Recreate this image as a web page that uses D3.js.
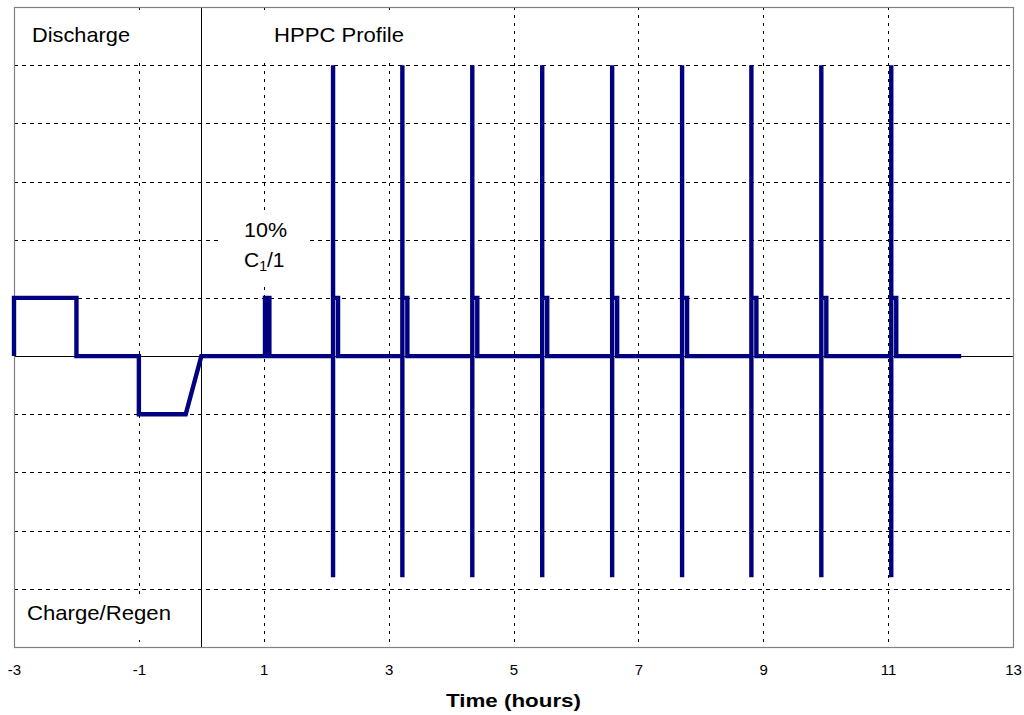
<!DOCTYPE html>
<html>
<head>
<meta charset="utf-8">
<script src="https://cdn.jsdelivr.net/npm/d3@7"></script>
<style>
  html, body { margin: 0; padding: 0; background: #fff; }
  svg { display: block; font-family: "Liberation Sans", Arial, sans-serif; }
</style>
</head>
<body>
<svg id="chart" width="1024" height="715"></svg>
<script>
// ---- Data ----
// Pre-test segment: time (h) and current (relative units)
const prepTime    = [-3, -3, -2, -2, -1, -1, -0.25, 0, 1.02, 1.02, 1.09, 1.09];
const prepCurrent = [ 0,  1,  1,  0,  0, -1, -1,    0, 0,    1,    1,    0];
// HPPC pulse sequences
const pulseStart     = [2.11, 3.22, 4.34, 5.46, 6.58, 7.70, 8.81, 9.93, 11.05];
const pulseEnd       = [2.19, 3.30, 4.42, 5.54, 6.66, 7.78, 8.89, 10.01, 11.13];
const dischargePeak  = [5, 5, 5, 5, 5, 5, 5, 5, 5];
const regenPeak      = [-3.8, -3.8, -3.8, -3.8, -3.8, -3.8, -3.8, -3.8, -3.8];
const stepLevel      = [1, 1, 1, 1, 1, 1, 1, 1, 1];
const endTime = 12.17;

const xTicks = [-3, -1, 1, 3, 5, 7, 9, 11, 13];
const vGrid  = [-1, 1, 3, 5, 7, 9, 11];
const hGrid  = [-4, -3, -2, -1, 1, 2, 3, 4, 5];

// ---- Build the profile polyline ----
const profile = prepTime.map((t, i) => [t, prepCurrent[i]]);
pulseStart.forEach((t, i) => {
  profile.push([t, 0], [t, dischargePeak[i]], [t, regenPeak[i]], [t, stepLevel[i]],
               [pulseEnd[i], stepLevel[i]], [pulseEnd[i], 0]);
});
profile.push([endTime, 0]);

// ---- Layout ----
const L = 14, R = 1013, T = 7, B = 647;
const svg = d3.select("#chart");
const x = d3.scaleLinear().domain([-3, 13]).range([L, R]);
const y = d3.scaleLinear().domain([-5, 6]).range([B, T]);

// gridlines
svg.append("g").selectAll("line").data(hGrid).join("line")
  .attr("x1", L).attr("x2", R)
  .attr("y1", d => Math.round(y(d)) + 0.5).attr("y2", d => Math.round(y(d)) + 0.5)
  .attr("stroke", "#000").attr("stroke-width", 1).attr("stroke-dasharray", "4,4");
svg.append("g").selectAll("line").data(vGrid).join("line")
  .attr("x1", d => Math.round(x(d)) + 0.5).attr("x2", d => Math.round(x(d)) + 0.5)
  .attr("y1", T).attr("y2", B)
  .attr("stroke", "#000").attr("stroke-width", 1).attr("stroke-dasharray", "3,5");

// white backgrounds of the text boxes (they hide the grid beneath)
const boxes = [[20, 15, 128, 46], [258, 15, 160, 46], [222, 214, 88, 72], [18, 596, 162, 44]];
svg.append("g").selectAll("rect").data(boxes).join("rect")
  .attr("x", d => d[0]).attr("y", d => d[1]).attr("width", d => d[2]).attr("height", d => d[3])
  .attr("fill", "#fff");

// zero axes
svg.append("line").attr("x1", L).attr("x2", R)
  .attr("y1", Math.round(y(0)) + 0.5).attr("y2", Math.round(y(0)) + 0.5)
  .attr("stroke", "#000").attr("stroke-width", 1);
svg.append("line").attr("x1", Math.round(x(0)) + 0.5).attr("x2", Math.round(x(0)) + 0.5)
  .attr("y1", T).attr("y2", B)
  .attr("stroke", "#000").attr("stroke-width", 1);

// plot frame
svg.append("rect").attr("x", L + 0.5).attr("y", T + 0.5)
  .attr("width", R - L).attr("height", B - T)
  .attr("fill", "none").attr("stroke", "#808080").attr("stroke-width", 1.2);

// profile line
svg.append("path").datum(profile)
  .attr("d", d3.line().x(d => x(d[0])).y(d => y(d[1])))
  .attr("fill", "none").attr("stroke", "#000080").attr("stroke-width", 4.4)
  .attr("stroke-linejoin", "miter").attr("stroke-miterlimit", 2);

// x axis labels
const xAxis = d3.axisBottom(x).tickValues(xTicks).tickSize(0).tickPadding(0).tickFormat(d3.format("d"));
const gx = svg.append("g").attr("transform", `translate(0,${B})`).call(xAxis);
gx.select(".domain").remove();
gx.selectAll("text").attr("dy", null).attr("y", 28)
  .attr("font-size", 15).attr("fill", "#000")
  .attr("font-family", "'Liberation Sans', Arial, sans-serif")
  .text(d => d < 0 ? "-" + Math.abs(d) : d);

// axis title
svg.append("text").attr("x", 446).attr("y", 707)
  .attr("font-size", 19).attr("font-weight", "bold")
  .attr("textLength", 135).attr("lengthAdjust", "spacingAndGlyphs").text("Time (hours)");

// annotations
function label(tx, ty, len, str) {
  return svg.append("text").attr("x", tx).attr("y", ty).attr("font-size", 21)
    .attr("textLength", len).attr("lengthAdjust", "spacingAndGlyphs").text(str);
}
label(32, 42, 98, "Discharge");
label(274, 42, 130, "HPPC Profile");
label(27, 620, 144, "Charge/Regen");
svg.append("text").attr("x", 244).attr("y", 237).attr("font-size", 21)
  .attr("textLength", 43).attr("lengthAdjust", "spacingAndGlyphs").text("10%");
const c1 = svg.append("text").attr("x", 244).attr("y", 267).attr("font-size", 21);
c1.append("tspan").text("C");
c1.append("tspan").attr("font-size", 14).attr("dy", 4).text("1");
c1.append("tspan").attr("dy", -4).text("/1");
</script>
</body>
</html>
